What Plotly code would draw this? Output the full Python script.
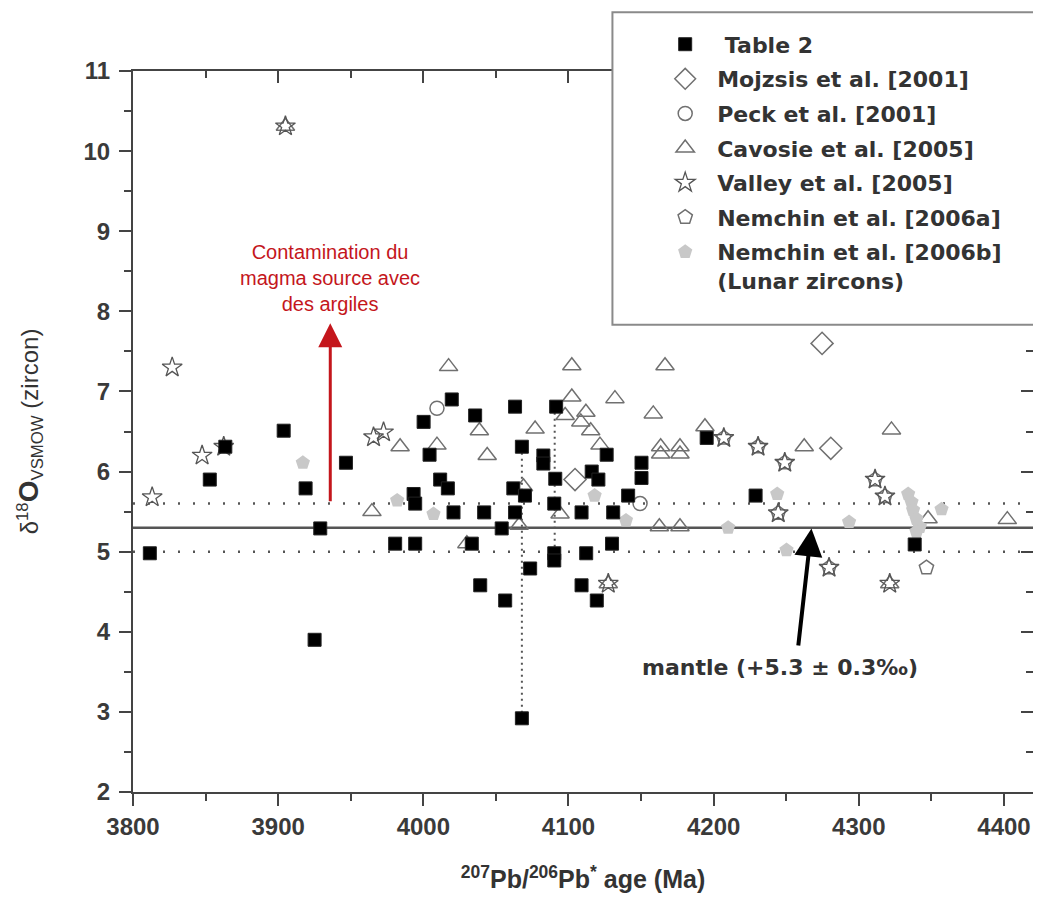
import plotly.graph_objects as go

FONT = "Liberation Sans, Arial, sans-serif"
WIDE = "DejaVu Sans, Liberation Sans, Arial, sans-serif"

# ---------------- data (age in Ma, delta18O in permil) ----------------
x_range = [3800, 4420]
y_range = [2, 11]
x_ticks = [3800, 3900, 4000, 4100, 4200, 4300, 4400]
y_ticks = [2, 3, 4, 5, 6, 7, 8, 9, 10, 11]

table2_age = [3811.6, 3852.9, 3863.6, 3903.8, 3918.9, 3929.0, 3925.1, 3946.7, 3980.6, 3993.3,
              3994.4, 3994.4, 4000.2, 4004.3, 4011.6, 4016.9, 4019.6, 4020.8, 4033.4, 4035.7,
              4039.2, 4041.9, 4054.0, 4056.4, 4062.0, 4063.2, 4063.2, 4067.9, 4067.9, 4070.0,
              4073.6, 4082.7, 4082.7, 4090.9, 4090.2, 4091.5, 4090.2, 4090.2, 4109.0, 4109.0,
              4112.2, 4116.0, 4119.5, 4120.6, 4126.3, 4130.0, 4130.8, 4141.1, 4150.3, 4150.3,
              4195.2, 4228.9, 4338.5]
table2_d18o = [4.98, 5.90, 6.31, 6.51, 5.79, 5.29, 3.90, 6.11, 5.10, 5.72,
               5.60, 5.10, 6.62, 6.21, 5.90, 5.79, 6.90, 5.49, 5.10, 6.70,
               4.58, 5.49, 5.29, 4.39, 5.79, 5.49, 6.81, 6.31, 2.92, 5.70,
               4.79, 6.20, 6.10, 5.91, 5.60, 6.81, 4.98, 4.89, 5.49, 4.58,
               4.98, 6.00, 4.39, 5.90, 6.21, 5.10, 5.49, 5.70, 6.11, 5.92,
               6.42, 5.70, 5.09]

mojzsis_age = [4104.5, 4274.7, 4280.7]
mojzsis_d18o = [5.90, 7.60, 6.29]

peck_age = [4009.4, 4149.3]
peck_d18o = [6.79, 5.60]

cavosie_age = [4017.4, 4102.3, 4166.5, 4102.3, 4132.0, 4097.7, 4112.0, 4108.5, 4115.3, 4077.0,
               4158.4, 4121.7, 4163.5, 4176.8, 4163.5, 4176.8, 4194.0, 4094.2, 4162.6, 4176.8,
               4069.0, 3984.0, 4009.4, 4038.6, 4044.0, 3964.6, 4030.0, 4066.0, 4262.4, 4322.5,
               4347.7, 4402.3, 3905.0, 4127.4, 4321.3]
cavosie_d18o = [7.31, 7.32, 7.32, 6.93, 6.91, 6.70, 6.74, 6.62, 6.51, 6.53,
                6.72, 6.33, 6.31, 6.31, 6.22, 6.22, 6.56, 5.47, 5.31, 5.31,
                5.81, 6.31, 6.33, 6.51, 6.20, 5.50, 5.10, 5.33, 6.31, 6.52,
                5.41, 5.40, 10.31, 4.60, 4.60]

valley_age = [3813.2, 3827.0, 3847.6, 3862.5, 3965.7, 3972.6, 3905.0, 4127.4, 4321.3,
              4207.0, 4230.6, 4249.0, 4244.5, 4279.5, 4311.2, 4318.0]
valley_d18o = [5.68, 7.30, 6.20, 6.31, 6.43, 6.49, 10.31, 4.60, 4.60,
               6.42, 6.31, 6.11, 5.48, 4.80, 5.90, 5.69]

nemchin_a_age = [4207.0, 4230.6, 4249.0, 4244.5, 4279.5, 4311.2, 4318.0, 4346.6]
nemchin_a_d18o = [6.42, 6.31, 6.11, 5.48, 4.80, 5.90, 5.69, 4.80]

nemchin_b_age = [3917.0, 3982.0, 4007.0, 4118.0, 4139.6, 4210.0, 4243.8, 4250.2, 4293.3,
                 4334.0, 4336.3, 4337.4, 4339.7, 4342.0, 4339.7, 4357.0]
nemchin_b_d18o = [6.11, 5.64, 5.47, 5.70, 5.39, 5.30, 5.72, 5.02, 5.37,
                  5.72, 5.62, 5.52, 5.41, 5.31, 5.25, 5.53]

mantle_mean = 5.3
mantle_low = 5.0
mantle_high = 5.6

vline_age = [4067.9, 4090.5]
vline_top = [6.31, 6.81]
vline_bottom = [2.92, 4.89]

# ---------------- figure ----------------
fig = go.Figure()

# dotted vertical range lines
for xa, yt, yb in zip(vline_age, vline_top, vline_bottom):
    fig.add_trace(go.Scatter(x=[xa, xa], y=[yt, yb], mode="lines",
                             line=dict(color="#555555", width=2, dash="2px,4px"),
                             showlegend=False, hoverinfo="skip"))

GREY = "#707070"
fig.add_trace(go.Scatter(x=cavosie_age, y=cavosie_d18o, mode="markers", name="Cavosie et al. [2005]",
                         legendgroup="g4", legendrank=4,
                         marker=dict(symbol="triangle-up-open", size=16, color=GREY,
                                     line=dict(width=1.5, color=GREY))))
fig.add_trace(go.Scatter(x=nemchin_b_age, y=nemchin_b_d18o, mode="markers",
                         name="Nemchin et al. [2006b]<br>(Lunar zircons)",
                         legendgroup="g7", legendrank=7,
                         marker=dict(symbol="pentagon", size=15, color="#c8c8c8",
                                     line=dict(width=0))))
fig.add_trace(go.Scatter(x=mojzsis_age, y=mojzsis_d18o, mode="markers", name="Mojzsis et al. [2001]",
                         legendgroup="g2", legendrank=2,
                         marker=dict(symbol="diamond-open", size=17, color=GREY,
                                     line=dict(width=1.5, color=GREY))))
fig.add_trace(go.Scatter(x=peck_age, y=peck_d18o, mode="markers", name="Peck et al. [2001]",
                         legendgroup="g3", legendrank=3,
                         marker=dict(symbol="circle-open", size=14, color=GREY,
                                     line=dict(width=1.5, color=GREY))))
fig.add_trace(go.Scatter(x=nemchin_a_age, y=nemchin_a_d18o, mode="markers", name="Nemchin et al. [2006a]",
                         legendgroup="g6", legendrank=6,
                         marker=dict(symbol="pentagon-open", size=15, color=GREY,
                                     line=dict(width=1.5, color=GREY))))
fig.add_trace(go.Scatter(x=valley_age, y=valley_d18o, mode="markers", name="Valley et al. [2005]",
                         legendgroup="g5", legendrank=5,
                         marker=dict(symbol="star-open", size=15, color="#555555",
                                     line=dict(width=1.3, color="#555555"))))
fig.add_trace(go.Scatter(x=table2_age, y=table2_d18o, mode="markers", name="\u00a0Table 2",
                         legendgroup="g1", legendrank=1,
                         marker=dict(symbol="square", size=13, color="#000000",
                                     line=dict(width=1, color="#222222"))))

# dummy trace to show inward mirrored ticks on top/right
fig.add_trace(go.Scatter(x=[], y=[], xaxis="x2", yaxis="y2", showlegend=False, hoverinfo="skip"))

# mantle lines
for yv, dash, w in [(mantle_mean, "solid", 2.5), (mantle_low, "2px,13px", 2.5), (mantle_high, "2px,13px", 2.5)]:
    fig.add_shape(type="line", xref="x", yref="y", x0=x_range[0], x1=x_range[1], y0=yv, y1=yv,
                  line=dict(color="#555555", width=w, dash=dash), layer="below")

# legend box
fig.add_shape(type="rect", xref="paper", yref="paper", x0=0.5327, x1=1.02, y0=0.648, y1=1.0814,
              line=dict(color="#8a8a8a", width=2), fillcolor="white", layer="above")

# annotations
fig.add_annotation(x=3935.9, y=8.42, xref="x", yref="y", showarrow=False,
                   text="Contamination du<br>magma source avec<br>des argiles",
                   font=dict(family=FONT, size=20, color="#c4161c"))
fig.add_annotation(x=3935.9, y=7.85, ax=3935.9, ay=5.61, xref="x", yref="y", axref="x", ayref="y",
                   text="", showarrow=True, arrowhead=2, arrowsize=1.6, arrowwidth=3,
                   arrowcolor="#c4161c")
fig.add_annotation(x=4267.4, y=5.29, ax=4258.2, ay=3.81, xref="x", yref="y", axref="x", ayref="y",
                   text="", showarrow=True, arrowhead=2, arrowsize=1.4, arrowwidth=4,
                   arrowcolor="#000000")
fig.add_annotation(x=4245.6, y=3.56, xref="x", yref="y", showarrow=False,
                   text="mantle (+5.3 ± 0.3‰)",
                   font=dict(family=WIDE, size=22, color="#333333", weight="bold"))

axis_common = dict(showgrid=False, zeroline=False, automargin=False)
fig.update_layout(
    width=1033, height=901,
    margin=dict(l=124.5, r=8.3, t=62.7, b=117.3, autoexpand=False),
    paper_bgcolor="white", plot_bgcolor="white",
    font=dict(family=FONT, color="#333333"),
    xaxis=dict(range=x_range, tickvals=x_ticks, ticks="outside", ticklen=12, tickwidth=2,
               tickcolor="#444444", showline=True, linecolor="#444444", linewidth=2, mirror=True,
               minor=dict(ticks="outside", ticklen=7, tickwidth=2, tickcolor="#444444", dtick=50),
               tickfont=dict(family=FONT, size=24, color="#3a3a3a", weight="bold"),
               title=dict(text="<sup>207</sup>Pb/<sup>206</sup>Pb<sup>*</sup> age (Ma)",
                          font=dict(family=FONT, size=25, color="#333333", weight="bold"),
                          standoff=32),
               **axis_common),
    yaxis=dict(range=y_range, tickvals=y_ticks, ticks="outside", ticklen=12, tickwidth=2,
               tickcolor="#444444", showline=True, linecolor="#444444", linewidth=2, mirror=True,
               minor=dict(ticks="outside", ticklen=7, tickwidth=2, tickcolor="#444444", dtick=0.5),
               tickfont=dict(family=FONT, size=24, color="#3a3a3a", weight="bold"),
               ticklabelstandoff=4,
               title=dict(text="δ<sup>18</sup><span style='font-size:28px'><b>O</b></span><sub>VSMOW</sub> (zircon)",
                          font=dict(family=FONT, size=24, color="#333333"),
                          standoff=38),
               **axis_common),
    xaxis2=dict(range=x_range, overlaying="x", side="top", anchor="y", tickvals=x_ticks,
                ticks="inside", ticklen=12, tickwidth=2, tickcolor="#444444", showticklabels=False,
                minor=dict(ticks="inside", ticklen=7, tickwidth=2, tickcolor="#444444", dtick=50),
                showline=False, **axis_common),
    yaxis2=dict(range=y_range, overlaying="y", side="right", anchor="x", tickvals=y_ticks,
                ticks="inside", ticklen=12, tickwidth=2, tickcolor="#444444", showticklabels=False,
                minor=dict(ticks="inside", ticklen=7, tickwidth=2, tickcolor="#444444", dtick=0.5),
                showline=False, **axis_common),
    legend=dict(x=0.578, y=1.066, xanchor="left", yanchor="top", bgcolor="rgba(0,0,0,0)",
                borderwidth=0, traceorder="grouped", tracegroupgap=3, itemwidth=54, valign="top",
                font=dict(family=WIDE, size=22, color="#333333", weight="bold")),
    showlegend=True,
)

fig.write_html("out.html")
